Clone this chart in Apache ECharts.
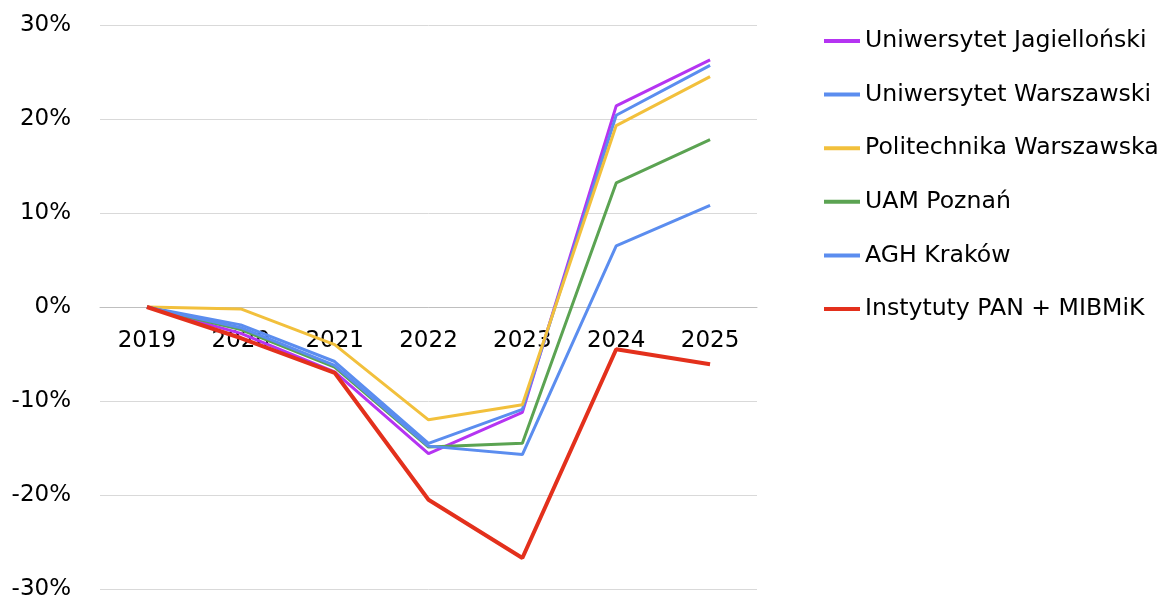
<!DOCTYPE html>
<html><head><meta charset="utf-8">
<script src="https://cdn.jsdelivr.net/npm/echarts@6/dist/echarts.min.js"></script>
<style>html,body{margin:0;padding:0;background:#fff}#c{width:1175px;height:598px}</style>
</head><body><div id="c"></div>
<script>
var years = ['2019','2020','2021','2022','2023','2024','2025'];
var names = ['Uniwersytet Jagielloński','Uniwersytet Warszawski','Politechnika Warszawska','UAM Poznań','AGH Kraków','Instytuty PAN + MIBMiK'];
var uj   = [0, -2.8, -6.9, -15.6, -11.2, 21.4, 26.3];
var uw   = [0, -1.9, -5.8, -14.5, -10.9, 20.4, 25.7];
var pw   = [0, -0.2, -4.0, -12.0, -10.4, 19.3, 24.5];
var uam  = [0, -2.4, -6.4, -14.9, -14.5, 13.2, 17.8];
var agh  = [0, -2.2, -6.2, -14.8, -15.7, 6.5, 10.8];
var pan  = [0, -3.3, -7.0, -20.5, -26.7, -4.5, -6.1];
var colors = ['#b534f2','#5b8def','#f2c03c','#5ba352','#5b8def','#e3301c'];
var widths = [3,3,3,3,3,4];
var seriesData = [uj, uw, pw, uam, agh, pan];
var font = 'DejaVu Sans';
var series = seriesData.map(function(d,i){
  return {name:names[i], type:'line', data:d, symbol:'none', z: i===5?10:2+i,
    lineStyle:{color:colors[i], width:widths[i]}, itemStyle:{color:colors[i]}};
});
var chart = echarts.init(document.getElementById('c'));
chart.setOption({
  animation:false,
  color:colors,
  grid:{left:100, right:418, top:25, bottom:9, containLabel:false, outerBoundsMode:'none'},
  legend:{orient:'vertical', left:819, top:22, itemWidth:36, itemHeight:4, itemGap:25.6, icon:'rect',
    textStyle:{fontFamily:font, fontSize:23.6, color:'#000', lineHeight:28},
    data:names},
  xAxis:{type:'category', data:years, boundaryGap:true, position:'bottom', offset:-282,
    axisLine:{onZero:false, lineStyle:{color:'#bfbfbf', width:1}},
    axisTick:{show:false},
    axisLabel:{fontFamily:font, fontSize:23, color:'#000', margin:23}},
  yAxis:{type:'value', min:-30, max:30, interval:10,
    axisLine:{show:false}, axisTick:{show:false},
    splitLine:{lineStyle:{color:'#d9d9d9', width:1}},
    axisLabel:{fontFamily:font, fontSize:23, color:'#000', margin:29, formatter:'{value}%'}},
  series:series
});
</script></body></html>
